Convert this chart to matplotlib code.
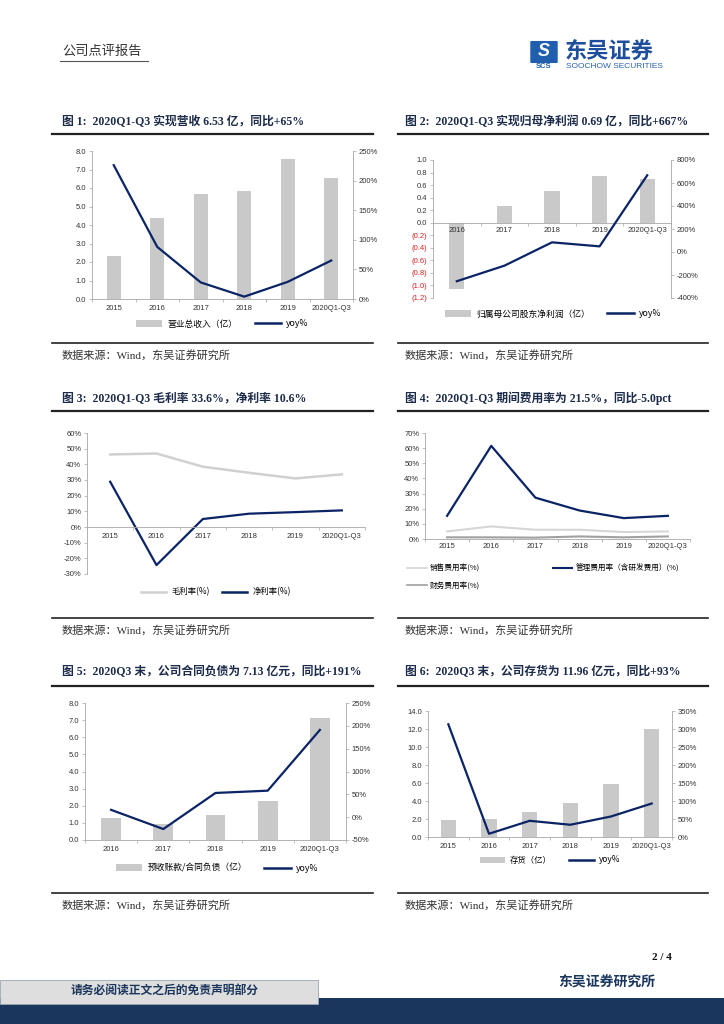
## Soochow Securities report page: 6 small charts ##

import matplotlib
matplotlib.use("Agg")
import matplotlib.pyplot as plt
from matplotlib.patches import Patch, Rectangle, FancyBboxPatch
from matplotlib.lines import Line2D
from matplotlib.ticker import FuncFormatter
import numpy as np

plt.rcParams['font.family'] = ['Liberation Serif', 'Noto Sans CJK SC', 'DejaVu Sans']

W, H = 724, 1024
BAR = '#c9c9c9'
NAVY = '#0b2466'
AXC = '#a6a6a6'
TITLEC = '#1c2b4a'
SANS = ['Liberation Sans', 'Noto Sans CJK SC']
CJK = ['Noto Sans CJK SC', 'Liberation Sans']

## DATA ##
years6 = ['2015', '2016', '2017', '2018', '2019', '2020Q1-Q3']
years5 = ['2016', '2017', '2018', '2019', '2020Q1-Q3']

rev = [2.35, 4.40, 5.67, 5.85, 7.57, 6.53]
rev_yoy = [226, 88, 28, 4, 29, 65]

np_parent = [-1.05, 0.27, 0.51, 0.74, 0.69]
np_yoy = [-254, -119, 84, 49, 667]

gross_margin = [46.3, 46.9, 38.5, 34.6, 31.0, 33.6]
net_margin = [28.9, -24.3, 5.1, 8.5, 9.5, 10.6]

sales_rate = [5.0, 8.3, 6.1, 6.1, 4.6, 5.0]
admin_rate = [15.3, 61.5, 27.3, 18.8, 13.8, 15.3]
fin_rate = [1.1, 1.1, 0.9, 1.7, 1.1, 1.7]

contract = [1.28, 0.92, 1.46, 2.28, 7.13]
contract_yoy = [16, -26, 53, 58, 191]

inventory = [1.92, 2.03, 2.81, 3.80, 5.90, 11.96]
inventory_yoy = [313, 9, 45, 34, 57, 93]


fig = plt.figure(figsize=(W / 100, H / 100), dpi=100)


def box(l, t, r, b):
    return [l / W, 1 - b / H, (r - l) / W, (b - t) / H]


def fx(x):
    return x / W


def fy(y):
    return 1 - y / H


def hline(x0, x1, y, lw=1.6, color='#222222'):
    fig.add_artist(Line2D([fx(x0), fx(x1)], [fy(y), fy(y)], color=color, lw=lw))


def style(ax):
    for s in ['top', 'right']:
        ax.spines[s].set_visible(False)
    for s in ['left', 'bottom']:
        ax.spines[s].set_color(AXC)
        ax.spines[s].set_linewidth(0.6)
    ax.tick_params(axis='y', labelsize=5.5, colors='#333333', length=2, width=0.5, pad=2)
    ax.tick_params(axis='y', color=AXC)
    ax.tick_params(axis='x', labelsize=5.5, colors='#333333', length=0, pad=4)
    ax.patch.set_alpha(0)


def cats(ax, labels):
    n = len(labels)
    ax.set_xlim(-0.5, n - 0.5)
    ax.set_xticks(range(n))
    ax.set_xticklabels(labels)
    ax.set_xticks(np.arange(-0.5, n, 1.0), minor=True)
    ax.tick_params(axis='x', which='minor', length=2.5, width=0.5, color=AXC, direction='out')


def right_axis(ax):
    ax.spines['right'].set_visible(True)
    ax.spines['right'].set_color(AXC)
    ax.spines['right'].set_linewidth(0.6)
    for s in ['top', 'left', 'bottom']:
        ax.spines[s].set_visible(False)
    ax.tick_params(axis='y', labelsize=5.5, colors='#333333', length=2, width=0.5, pad=2)
    ax.tick_params(axis='y', color=AXC)
    ax.yaxis.set_major_formatter(FuncFormatter(lambda v, p: '%d%%' % v))


def leg(ax, handles, labels, x, y, size=6.3, spacing=2.0):
    ax.legend(handles, labels, loc='center', bbox_to_anchor=(fx(x), fy(y)), ncol=2,
              frameon=False, prop={'family': CJK, 'size': size}, handlelength=3.0,
              handletextpad=0.6, columnspacing=spacing, bbox_transform=fig.transFigure)


def bar_h():
    return Patch(facecolor=BAR, edgecolor='none')


line_h = Line2D([], [], color=NAVY, lw=1.8)

## CHART 1 ##
ax1 = fig.add_axes(box(92, 151, 353, 299))
x = np.arange(len(years6))
ax1.bar(x, rev, width=0.32, color=BAR)
ax1.set_ylim(0, 8)
ax1.set_yticks(np.arange(0, 8.01, 1))
ax1.yaxis.set_major_formatter(FuncFormatter(lambda v, p: '%.1f' % v))
cats(ax1, years6)
style(ax1)
ax1b = ax1.twinx()
ax1b.plot(x, rev_yoy, color=NAVY, lw=1.6)
ax1b.set_ylim(0, 250)
ax1b.set_yticks(range(0, 251, 50))
right_axis(ax1b)
leg(ax1b, [bar_h(), line_h], ['营业总收入（亿）', 'yoy%'], 222, 324)

## CHART 2 ##
ax2 = fig.add_axes(box(433, 160, 671, 298))
x = np.arange(len(years5))
ax2.bar(x, np_parent, width=0.32, color=BAR)
ax2.set_ylim(-1.2, 1.0)
t2 = np.round(np.arange(-1.2, 1.01, 0.2), 1)
ax2.set_yticks(t2)
ax2.set_yticklabels(['(%.1f)' % abs(v) if v < 0 else '%.1f' % abs(v) for v in t2])
cats(ax2, years5)
style(ax2)
for v, lab in zip(t2, ax2.get_yticklabels()):
    if v < 0:
        lab.set_color('#e02020')
ax2.spines['bottom'].set_position(('data', 0))
ax2.tick_params(axis='x', pad=3)
ax2b = ax2.twinx()
ax2b.plot(x, np_yoy, color=NAVY, lw=1.6)
ax2b.set_ylim(-400, 800)
ax2b.set_yticks(range(-400, 801, 200))
right_axis(ax2b)
leg(ax2b, [bar_h(), line_h], ['归属母公司股东净利润（亿）', 'yoy%'], 553, 314)

## CHART 3 ##
ax3 = fig.add_axes(box(87, 433, 365, 574))
x = np.arange(len(years6))
ax3.plot(x, gross_margin, color='#d0d0d0', lw=1.8)
ax3.plot(x, net_margin, color=NAVY, lw=1.6)
ax3.set_ylim(-30, 60)
ax3.set_yticks(range(-30, 61, 10))
ax3.yaxis.set_major_formatter(FuncFormatter(lambda v, p: '%d%%' % v))
cats(ax3, years6)
style(ax3)
ax3.spines['bottom'].set_position(('data', 0))
ax3.tick_params(axis='x', pad=4)
h3 = [Line2D([], [], color='#d0d0d0', lw=1.8), line_h]
leg(ax3, h3, ['毛利率(%)', '净利率(%)'], 216, 592, size=6.0, spacing=1.5)

## CHART 4 ##
ax4 = fig.add_axes(box(425, 433, 690, 539))
ax4.plot(x, sales_rate, color='#d6d6d6', lw=1.5)
ax4.plot(x, admin_rate, color=NAVY, lw=1.6)
ax4.plot(x, fin_rate, color='#a0a0a0', lw=1.5)
ax4.set_ylim(0, 70)
ax4.set_yticks(range(0, 71, 10))
ax4.yaxis.set_major_formatter(FuncFormatter(lambda v, p: '%d%%' % v))
cats(ax4, years6)
style(ax4)
ax4.tick_params(axis='x', pad=3)
# order so that row 1 = sales, admin and row 2 = finance
ax4.legend([Line2D([], [], color='#d6d6d6', lw=1.2), Line2D([], [], color='#a0a0a0', lw=1.2),
            Line2D([], [], color=NAVY, lw=1.5)],
           ['销售费用率(%)', '财务费用率(%)', '管理费用率（含研发费用）(%)'],
           loc='upper left', bbox_to_anchor=(fx(400), fy(557)), ncol=2, frameon=False,
           prop={'family': CJK, 'size': 5.5}, handlelength=2.6, handletextpad=0.4,
           columnspacing=9.5, labelspacing=1.2, bbox_transform=fig.transFigure)

## CHART 5 ##
ax5 = fig.add_axes(box(85, 703, 346, 840))
x = np.arange(len(years5))
ax5.bar(x, contract, width=0.38, color=BAR)
ax5.set_ylim(0, 8)
ax5.set_yticks(np.arange(0, 8.01, 1))
ax5.yaxis.set_major_formatter(FuncFormatter(lambda v, p: '%.1f' % v))
cats(ax5, years5)
style(ax5)
ax5b = ax5.twinx()
ax5b.plot(x, contract_yoy, color=NAVY, lw=1.6)
ax5b.set_ylim(-50, 250)
ax5b.set_yticks(range(-50, 251, 50))
right_axis(ax5b)
leg(ax5b, [bar_h(), line_h], ['预收账款/合同负债（亿）', 'yoy%'], 217, 868)

## CHART 6 ##
ax6 = fig.add_axes(box(428, 711, 672, 837))
x = np.arange(len(years6))
ax6.bar(x, inventory, width=0.38, color=BAR)
ax6.set_ylim(0, 14)
ax6.set_yticks(np.arange(0, 14.01, 2))
ax6.yaxis.set_major_formatter(FuncFormatter(lambda v, p: '%.1f' % v))
cats(ax6, years6)
style(ax6)
ax6b = ax6.twinx()
ax6b.plot(x, inventory_yoy, color=NAVY, lw=1.6)
ax6b.set_ylim(0, 350)
ax6b.set_yticks(range(0, 351, 50))
right_axis(ax6b)
leg(ax6b, [bar_h(), line_h], ['存货（亿）', 'yoy%'], 550, 860, size=6.0)

# sans-serif tick labels everywhere
for ax in fig.axes:
    for lab in ax.get_xticklabels() + ax.get_yticklabels():
        lab.set_family(SANS)

## TITLES, RULES, SOURCES ##
titles = [
    (62, 122, '图 1:  2020Q1-Q3 实现营收 6.53 亿，同比+65%'),
    (405, 122, '图 2:  2020Q1-Q3 实现归母净利润 0.69 亿，同比+667%'),
    (62, 398, '图 3:  2020Q1-Q3 毛利率 33.6%，净利率 10.6%'),
    (405, 398, '图 4:  2020Q1-Q3 期间费用率为 21.5%，同比-5.0pct'),
    (62, 672, '图 5:  2020Q3 末，公司合同负债为 7.13 亿元，同比+191%'),
    (405, 672, '图 6:  2020Q3 末，公司存货为 11.96 亿元，同比+93%'),
]
for tx, ty, s in titles:
    fig.text(fx(tx), fy(ty), s, fontsize=8.5, fontweight='bold', color=TITLEC, va='center')

for ry, sy in [(134, 343), (411, 618), (686, 893)]:
    hline(52, 373, ry)
    hline(398, 708, ry)
    hline(52, 373, sy, lw=1.2)
    hline(398, 708, sy, lw=1.2)
    fig.text(fx(62), fy(sy + 12), '数据来源：Wind，东吴证券研究所', fontsize=8, color='#333333', va='center')
    fig.text(fx(405), fy(sy + 12), '数据来源：Wind，东吴证券研究所', fontsize=8, color='#333333', va='center')

## HEADER ##
fig.text(fx(62), fy(52), '公司点评报告', fontsize=9.5, color='#333333', va='center')
hline(60, 148, 61, lw=0.8, color='#555555')
fig.add_artist(FancyBboxPatch((fx(531), fy(62)), fx(26), 20 / H, boxstyle='round,pad=0.001',
                              facecolor='#1f5fae', edgecolor='none', transform=fig.transFigure))
fig.text(fx(544), fy(51.5), 'S', fontsize=13, fontweight='bold', fontstyle='italic', color='white',
         ha='center', va='center', family=SANS)
fig.text(fx(544), fy(67), 'SCS', fontsize=5.5, fontweight='bold', color='#1f5fae',
         ha='center', va='center', family=SANS)
fig.text(fx(565), fy(51), '东吴证券', fontsize=16, fontweight='bold', color='#1f4f9c',
         va='center', family=CJK)
fig.text(fx(566), fy(67), 'SOOCHOW SECURITIES', fontsize=6, color='#2a62b0', va='center', family=SANS)

## FOOTER ##
fig.text(fx(672), fy(958), '2 / 4', fontsize=8, fontweight='bold', color='#111111', ha='right', va='center')
fig.add_artist(Rectangle((0, fy(1024)), 1, 26 / H, facecolor='#1b365d', edgecolor='none',
                         transform=fig.transFigure))
fig.add_artist(Rectangle((0, fy(1004)), fx(318), 24 / H, facecolor='#dedede', edgecolor='#9aa5b5',
                         lw=0.6, transform=fig.transFigure))
fig.text(fx(165), fy(992), '请务必阅读正文之后的免责声明部分', fontsize=8.5, fontweight='bold',
         color='#1b365d', ha='center', va='center')
fig.text(fx(655), fy(983), '东吴证券研究所', fontsize=10, fontweight='bold', color='#1b365d',
         ha='right', va='center')

fig.savefig('out.png', dpi=100)
